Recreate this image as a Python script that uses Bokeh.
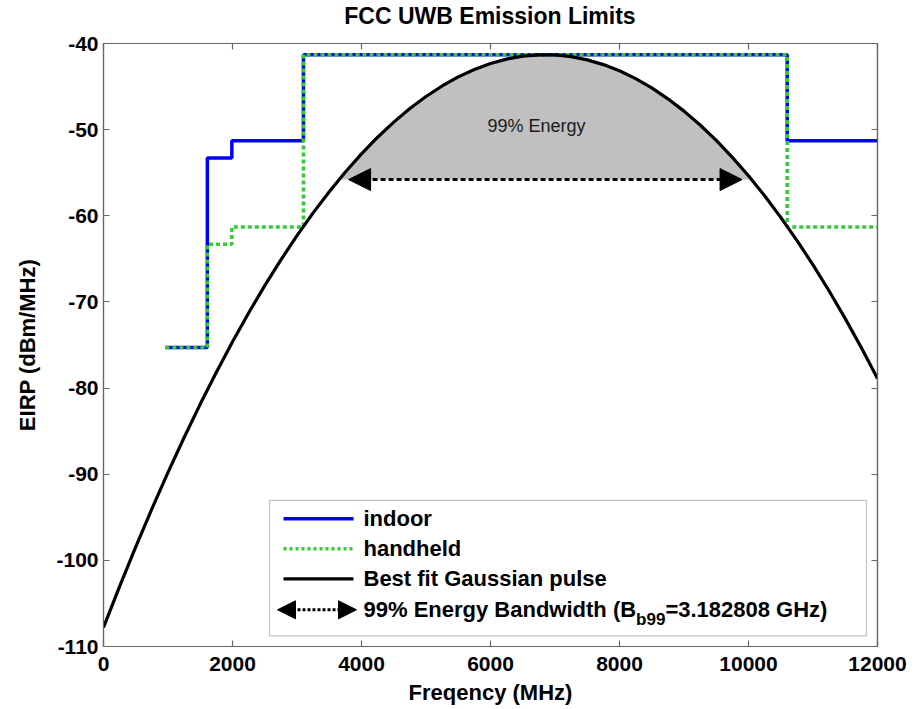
from bokeh.plotting import figure
from bokeh.layouts import column
from bokeh.models import (LinearAxis, FixedTicker, Range1d, Label, BoxAnnotation,
                          Arrow, NormalHead, CustomJSTickFormatter, Div)
from bokeh.embed import file_html
from bokeh.resources import INLINE

# ---------------- data ----------------
edges_mhz = [960, 1610, 1990, 3100, 10600, 12000]
indoor_dbm = [-75.3, -53.3, -51.3, -41.3, -51.3, -51.3]
handheld_dbm = [-75.3, -63.3, -61.3, -41.3, -61.3, -61.3]

gauss_f_mhz = [0, 250, 500, 750, 1000, 1250, 1500, 1750, 2000, 2250, 2500, 2750,
               3000, 3250, 3500, 3750, 4000, 4250, 4500, 4750, 5000, 5250, 5500, 5750,
               6000, 6250, 6500, 6750, 7000, 7250, 7500, 7750, 8000, 8250, 8500, 8750,
               9000, 9250, 9500, 9750, 10000, 10250, 10500, 10750, 11000, 11250, 11500,
               11750, 12000]
gauss_dbm = [-107.79, -103.03, -98.44, -94.03, -89.79, -85.74, -81.86, -78.16, -74.63,
             -71.28, -68.11, -65.12, -62.30, -59.66, -57.20, -54.92, -52.81, -50.88,
             -49.13, -47.55, -46.15, -44.93, -43.88, -43.01, -42.32, -41.81, -41.47,
             -41.31, -41.33, -41.53, -41.90, -42.45, -43.17, -44.08, -45.16, -46.42,
             -47.85, -49.46, -51.25, -53.22, -55.36, -57.68, -60.18, -62.85, -65.70,
             -68.73, -71.94, -75.32, -78.88]

band_lo_mhz, band_hi_mhz, band_level_dbm = 3650, 10050, -55.8
arrow_lo_mhz, arrow_hi_mhz = 3800, 9900

x_ticks = [0, 2000, 4000, 6000, 8000, 10000, 12000]
y_ticks = [-110, -100, -90, -80, -70, -60, -50, -40]

title_text = "FCC UWB Emission Limits"
legend_labels = ["indoor", "handheld", "Best fit Gaussian pulse"]
bw_label_main = "99% Energy Bandwidth (B"
bw_label_sub = "b99"
bw_label_rest = "=3.182808 GHz)"
energy_label = "99% Energy"

X_MIN, X_MAX = 0, 12000
Y_MIN, Y_MAX = -110, -40

# ---------------- style ----------------
FONT = "Liberation Sans"
AXIS_COLOR = "#666666"
BLUE = "#0000FF"
GREEN = "#33CC33"
TITLE_H = 32
FRAME_L, FRAME_W, FRAME_H = 103, 774, 603

# reference frame geometry (pixels in reference) -> data helpers for annotations
RF_L, RF_R, RF_T, RF_B = 103.0, 877.0, 42.7, 645.7


def px_x(px):
    return X_MIN + (px - RF_L) * (X_MAX - X_MIN) / (RF_R - RF_L)


def px_y(py):
    return Y_MAX - (py - RF_T) * (Y_MAX - Y_MIN) / (RF_B - RF_T)


p = figure(frame_width=FRAME_W, frame_height=FRAME_H,
           x_range=Range1d(X_MIN, X_MAX), y_range=Range1d(Y_MIN, Y_MAX),
           output_backend="svg", toolbar_location=None,
           min_border_left=FRAME_L, min_border_right=40, min_border_top=43 - TITLE_H,
           min_border_bottom=50)
p.background_fill_color = "white"
p.border_fill_color = "white"
p.grid.visible = False
p.outline_line_color = AXIS_COLOR
p.outline_line_width = 1.2

title_div = Div(text=title_text, width=FRAME_W, height=TITLE_H, margin=(0, 0, 0, FRAME_L),
                styles={"font-family": FONT, "font-weight": "bold", "font-size": "23px",
                        "line-height": f"{TITLE_H}px", "text-align": "center",
                        "color": "black"})

# ---------------- marks ----------------
fill_x = [band_lo_mhz] + [f for f in gauss_f_mhz if band_lo_mhz < f < band_hi_mhz] + [band_hi_mhz]
fill_y = [band_level_dbm] + [g for f, g in zip(gauss_f_mhz, gauss_dbm)
                             if band_lo_mhz < f < band_hi_mhz] + [band_level_dbm]
p.patch(fill_x, fill_y, fill_color="#C0C0C0", line_color=None)

p.step(edges_mhz, indoor_dbm, mode="after", line_color=BLUE, line_width=3.5)
p.step(edges_mhz, handheld_dbm, mode="after", line_color=GREEN, line_width=3.5,
       line_dash="4 3")
p.line(gauss_f_mhz, gauss_dbm, line_color="black", line_width=3.2)

p.add_layout(Arrow(x_start=arrow_lo_mhz, x_end=arrow_hi_mhz,
                   y_start=band_level_dbm, y_end=band_level_dbm,
                   line_color="black", line_width=3, line_dash="5 3",
                   start=NormalHead(size=22, fill_color="black", line_color="black", line_width=1),
                   end=NormalHead(size=22, fill_color="black", line_color="black", line_width=1)))

p.add_layout(Label(x=px_x(536), y=px_y(125), text=energy_label, text_align="center",
                   text_baseline="middle", text_font=FONT, text_font_size="18px",
                   text_color="#1a1a1a"))

# ---------------- axes ----------------
p.xaxis.ticker = FixedTicker(ticks=x_ticks)
p.yaxis.ticker = FixedTicker(ticks=y_ticks)
p.yaxis.formatter = CustomJSTickFormatter(code="return tick.toFixed(0)")
p.xaxis.formatter = CustomJSTickFormatter(code="return tick.toFixed(0)")
p.xaxis.axis_label = "Freqency (MHz)"
p.yaxis.axis_label = "EIRP (dBm/MHz)"
for ax in p.xaxis + p.yaxis:
    ax.major_tick_in = 6
    ax.major_tick_out = 0
    ax.minor_tick_in = 0
    ax.minor_tick_out = 0
    ax.axis_line_color = AXIS_COLOR
    ax.axis_line_width = 1.2
    ax.major_tick_line_color = AXIS_COLOR
    ax.major_tick_line_width = 1.2
    ax.major_label_text_font = FONT
    ax.major_label_text_font_style = "bold"
    ax.major_label_text_font_size = "21px"
    ax.major_label_text_color = "black"
    ax.axis_label_text_font = FONT
    ax.axis_label_text_font_style = "bold"
    ax.axis_label_text_font_size = "22px"
    ax.axis_label_text_color = "black"
p.xaxis.major_label_standoff = 10
p.xaxis.axis_label_standoff = 6
p.yaxis.major_label_standoff = 5
p.yaxis.axis_label_standoff = 13

for loc, tk in (("above", x_ticks), ("right", y_ticks)):
    ax = LinearAxis(ticker=FixedTicker(ticks=tk),
                    formatter=CustomJSTickFormatter(code="return ''"))
    ax.major_tick_in = 6
    ax.major_tick_out = 0
    ax.minor_tick_in = 0
    ax.minor_tick_out = 0
    ax.major_label_standoff = 0
    ax.axis_line_color = AXIS_COLOR
    ax.axis_line_width = 1.2
    ax.major_tick_line_color = AXIS_COLOR
    ax.major_tick_line_width = 1.2
    ax.major_label_text_font_size = "1px"
    p.add_layout(ax, loc)

# ---------------- legend (drawn by hand to allow the subscript) ----------------
p.add_layout(BoxAnnotation(left=px_x(269), right=px_x(866), top=px_y(499.5), bottom=px_y(635),
                           fill_color="white", fill_alpha=1.0, line_color="#3a3a3a",
                           line_width=1.2))

rows_py = [518, 548, 578, 609]
sample_l, sample_r, text_px = 283, 353, 363
LEG_FS = 22
sample_styles = [dict(line_color=BLUE, line_width=3.5, line_dash="solid"),
                 dict(line_color=GREEN, line_width=3.5, line_dash="3 3"),
                 dict(line_color="black", line_width=3.2, line_dash="solid")]
for py, lab, st in zip(rows_py[:3], legend_labels, sample_styles):
    p.add_layout(Arrow(x_start=px_x(sample_l), x_end=px_x(sample_r), y_start=px_y(py),
                       y_end=px_y(py), start=None, end=None, **st))
    p.add_layout(Label(x=px_x(text_px), y=px_y(py), text=lab, text_baseline="middle",
                       text_font=FONT, text_font_style="bold",
                       text_font_size=f"{LEG_FS}px", text_color="black"))

py4 = rows_py[3]
p.add_layout(Arrow(x_start=px_x(sample_l - 6), x_end=px_x(sample_r + 3), y_start=px_y(py4),
                   y_end=px_y(py4), line_color="black", line_width=3, line_dash="3 2",
                   start=NormalHead(size=18, fill_color="black", line_color="black", line_width=1),
                   end=NormalHead(size=18, fill_color="black", line_color="black", line_width=1)))
# widths from Arial/Liberation Sans Bold advance metrics (em units)
main_em, sub_em = 12.391, 1.723
SUB_FS = 17
x_sub = text_px + main_em * LEG_FS
x_rest = x_sub + sub_em * SUB_FS
p.add_layout(Label(x=px_x(text_px), y=px_y(py4), text=bw_label_main, text_baseline="middle",
                   text_font=FONT, text_font_style="bold", text_font_size=f"{LEG_FS}px",
                   text_color="black"))
p.add_layout(Label(x=px_x(x_sub), y=px_y(py4 + 10), text=bw_label_sub, text_baseline="middle",
                   text_font=FONT, text_font_style="bold", text_font_size=f"{SUB_FS}px",
                   text_color="black"))
p.add_layout(Label(x=px_x(x_rest), y=px_y(py4), text=bw_label_rest, text_baseline="middle",
                   text_font=FONT, text_font_style="bold", text_font_size=f"{LEG_FS}px",
                   text_color="black"))

layout = column(title_div, p, spacing=0)
open("out.html", "w").write(file_html(layout, INLINE))
